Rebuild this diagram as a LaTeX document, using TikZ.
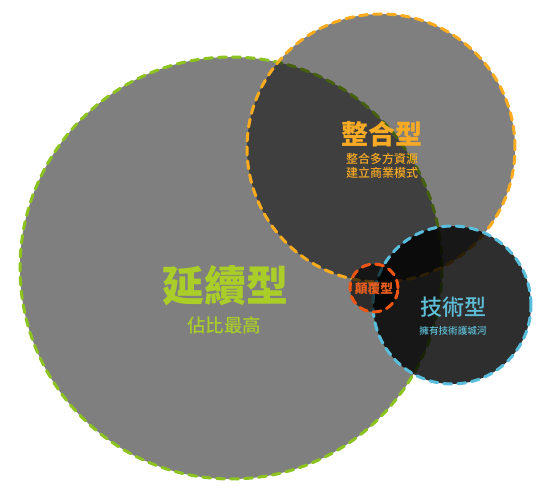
\documentclass[tikz,border=0pt]{standalone}
\usepackage{fontspec}
\newfontfamily\cjk{Noto Sans CJK TC}
\newfontfamily\cjkm{Noto Sans CJK TC Medium}
\usetikzlibrary{positioning}
\definecolor{cgreen}{RGB}{140,195,30}
\definecolor{tgreen}{RGB}{170,205,40}
\definecolor{corange}{RGB}{250,172,30}
\definecolor{torange}{RGB}{247,170,35}
\definecolor{ccyan}{RGB}{88,190,220}
\definecolor{tcyan}{RGB}{95,190,215}
\definecolor{cred}{RGB}{240,85,20}
\definecolor{tred}{RGB}{235,95,30}
\tikzset{
  circ/.style={circle, inner sep=0pt, outer sep=0pt, fill=black, line width=3pt,
    dash pattern=on 8pt off 6pt, line cap=round},
  lbl/.style={inner sep=0pt, font=\cjk},
}
\begin{document}
\begin{tikzpicture}[x=1pt,y=-1pt]
\useasboundingbox (0,0) rectangle (550,494);
\node[circ, draw=cgreen, fill opacity=0.5, minimum size=422pt] (big) at (231,268) {};
\node[circ, draw=corange, fill opacity=0.5, minimum size=268pt] (top) at (381,148) {};
\node[circ, draw=ccyan, fill opacity=0.82, minimum size=158pt] (tech) at (452,305) {};
\node[circ, draw=cred, fill opacity=0.65, minimum size=48pt] (dis) at (374,288) {};
% labels
\node[lbl, text=torange, font=\cjk\bfseries\fontsize{27}{27}\selectfont] (t1) at (382,134) {整合型};
\node[lbl, text=torange, font=\cjkm\fontsize{12}{12}\selectfont] (t1a) at (382,159) {整合多方資源};
\node[lbl, text=torange, font=\cjkm\fontsize{12}{12}\selectfont] (t1b) at (382,173) {建立商業模式};
\node[lbl, text=tgreen, font=\cjk\bfseries\fontsize{42}{42}\selectfont] (t2) at (225,286) {延續型};
\node[lbl, text=tgreen, font=\cjkm\fontsize{18.5}{18.5}\selectfont] (t2a) at (224,325) {佔比最高};
\node[lbl, text=tcyan, font=\cjkm\fontsize{22}{22}\selectfont] (t3) at (453,307) {技術型};
\node[lbl, text=tcyan, font=\cjkm\fontsize{9.6}{9.6}\selectfont] (t3a) at (453,331) {擁有技術護城河};
\node[lbl, text=tred, font=\cjk\bfseries\fontsize{12.7}{12.7}\selectfont] (t4) at (374,289) {顛覆型};
\end{tikzpicture}
\end{document}
